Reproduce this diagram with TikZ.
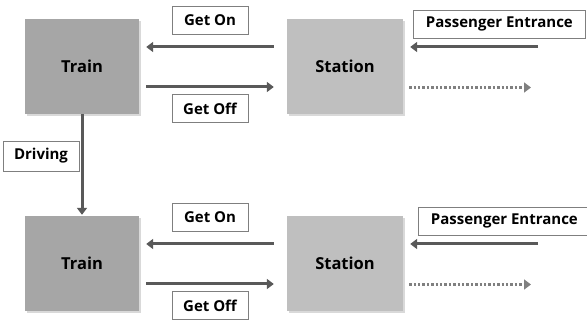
\documentclass[tikz,border=0pt]{standalone}
\usepackage{fontspec}
\setmainfont{Open Sans}
\usetikzlibrary{positioning,arrows.meta,shadows}
\definecolor{traingray}{HTML}{A6A6A6}
\definecolor{stationgray}{HTML}{BFBFBF}
\definecolor{arrowgray}{HTML}{595959}
\definecolor{dotgray}{HTML}{808080}
\definecolor{framegray}{HTML}{7F7F7F}
\tikzset{
    % Block styles
    unit/.style={rectangle, minimum width=114pt, minimum height=95pt, inner sep=0pt,
                 font=\bfseries\fontsize{16.5}{19}\selectfont,
                 drop shadow={shadow xshift=2pt, shadow yshift=-2pt, opacity=0.3}},
    train/.style={unit, fill=traingray},
    station/.style={unit, fill=stationgray, minimum width=116pt},
    % Label styles
    tag/.style={rectangle, draw=framegray, line width=0.8pt, fill=white, minimum height=28pt,
                inner sep=3pt, font=\bfseries\fontsize{15}{17}\selectfont},
    % Arrow styles
    flow/.style={-{Triangle[length=7pt, width=10pt]}, line width=3pt, arrowgray},
    exit flow/.style={-{Triangle[length=7pt, width=10pt]}, line width=2.4pt, dotgray,
                      dash pattern=on 2.4pt off 2pt},
}

\begin{document}
\begin{tikzpicture}[x=1pt, y=-1pt]
    \useasboundingbox (0,0) rectangle (587,320);

    % Both stops
    \foreach \r/\y/\pex in {top/66.5/413, bot/263.5/418} {
        \node[train] (train\r) at (82, \y) {Train};
        \node[station] (station\r) at (345, \y) {Station};
        \coordinate (in\r) at (538, \y-19.5);
        \coordinate (out\r) at (531, \y+21);

        \node[tag, minimum width=76pt] (geton\r) at (210, \y-46.5) {Get On};
        \node[tag, minimum width=76pt] (getoff\r) at (210, \y+42) {Get Off};
        \node[tag, anchor=west, minimum width=172pt] (entrance\r) at (\pex, \y-42.5) {Passenger Entrance};

        \draw[flow, shorten <=13pt, shorten >=7pt] ([yshift=19.5pt]station\r.west) -- ([yshift=19.5pt]train\r.east);
        \draw[flow, shorten <=7pt, shorten >=13pt] ([yshift=-20.5pt]train\r.east) -- ([yshift=-20.5pt]station\r.west);
        \draw[flow, shorten >=7pt] (in\r) -- (in\r -| station\r.east);
        \draw[exit flow, shorten <=6pt] (out\r -| station\r.east) -- (out\r);
    }

    % Driving
    \node[tag, minimum width=76pt, minimum height=30pt] (driving) at (41, 156) {Driving};
    \draw[flow, shorten >=1pt] (traintop.south) -- (trainbot.north);
\end{tikzpicture}
\end{document}
